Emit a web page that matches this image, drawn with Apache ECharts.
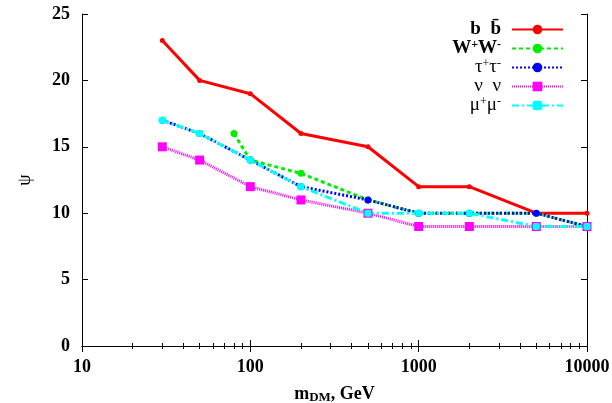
<!DOCTYPE html>
<html><head><meta charset="utf-8">
<script src="https://cdn.jsdelivr.net/npm/echarts@6/dist/echarts.min.js"></script>
<style>html,body{margin:0;padding:0;background:#fff}#c{width:612px;height:403px}</style>
</head><body><div id="c"></div>
<script>
// Data
const massBB = [30, 50, 100, 200, 500, 1000, 2000, 5000, 10000];
const psiBB = [23, 20, 19, 16, 15, 12, 12, 10, 10];
const massWW = [80, 100, 200, 500, 1000, 2000, 5000, 10000];
const psiWW = [16, 14, 13, 11, 10, 10, 10, 9];
const massTT = [30, 50, 100, 200, 500, 1000, 2000, 5000, 10000];
const psiTT = [17, 16, 14, 12, 11, 10, 10, 10, 9];
const massNN = [30, 50, 100, 200, 500, 1000, 2000, 5000, 10000];
const psiNN = [15, 14, 12, 11, 10, 9, 9, 9, 9];
const massMM = [30, 50, 100, 200, 500, 1000, 2000, 5000, 10000];
const psiMM = [17, 16, 14, 12, 10, 10, 10, 9, 9];
const seriesNames = ['bb', 'WW', 'tautau', 'nunu', 'mumu'];
const legendLabels = {
  bb: '{b|b  b\u0304}{g|}',
  WW: '{b|W}{bs|+}{b|W}{bs|-}{g|}',
  tautau: '{n|\u03c4}{ns|+}{n|\u03c4}{ns|-}{g|}',
  nunu: '{n|\u03bd  \u03bd}{g|}',
  mumu: '{n|\u03bc}{ns|+}{n|\u03bc}{ns|-}{g|}'
};
const yMin = 0, yMax = 25, yStep = 5;

const zip = (xs, ys) => xs.map((x, i) => [x, ys[i]]);
const FONT = '"Liberation Serif", "DejaVu Serif", serif';

const chart = echarts.init(document.getElementById('c'), null, {renderer: 'canvas'});
const axisLine = {show: true, lineStyle: {color: '#000', width: 1}};
const option = {
  animation: false,
  textStyle: {fontFamily: FONT},
  grid: {left: 82, right: 25, top: 14, bottom: 57, containLabel: false, outerBoundsMode: 'none'},
  xAxis: [{
    type: 'log', logBase: 10, min: 10, max: 10000,
    axisLine: axisLine,
    axisTick: {show: true, inside: true, length: 6, lineStyle: {color: '#000'}},
    minorTick: {show: true, splitNumber: 9, length: 3, lineStyle: {color: '#000'}},
    splitLine: {show: false},
    axisLabel: {fontFamily: FONT, fontWeight: 'bold', fontSize: 18, color: '#000', margin: 12,
      formatter: v => String(Math.round(v))},
    name: '{m|m}{s|DM}{m|, GeV}',
    nameLocation: 'middle', nameGap: 38,
    nameTextStyle: {rich: {
      m: {fontFamily: FONT, fontWeight: 'bold', fontSize: 18, color: '#000'},
      s: {fontFamily: FONT, fontWeight: 'bold', fontSize: 13, color: '#000', verticalAlign: 'bottom', padding: [7, 0, 0, 0]}
    }}
  }, {
    type: 'log', logBase: 10, min: 10, max: 10000, position: 'top',
    axisLine: axisLine,
    axisTick: {show: true, inside: true, length: 6, lineStyle: {color: '#000'}},
    minorTick: {show: true, splitNumber: 9, length: 3, lineStyle: {color: '#000'}},
    splitLine: {show: false}, axisLabel: {show: false}
  }],
  yAxis: [{
    type: 'value', min: yMin, max: yMax, interval: yStep,
    axisLine: axisLine,
    axisTick: {show: true, inside: true, length: 6, lineStyle: {color: '#000'}},
    splitLine: {show: false},
    axisLabel: {fontFamily: FONT, fontWeight: 'bold', fontSize: 18, color: '#000', margin: 12},
    name: '\u03c8', nameLocation: 'middle', nameGap: 48, nameRotate: 90,
    nameTextStyle: {fontFamily: FONT, fontSize: 18, color: '#000'}
  }, {
    type: 'value', min: yMin, max: yMax, interval: yStep, position: 'right',
    axisLine: axisLine,
    axisTick: {show: true, inside: true, length: 6, lineStyle: {color: '#000'}},
    splitLine: {show: false}, axisLabel: {show: false}
  }],
  legend: {
    orient: 'vertical', right: 48, top: 20, align: 'right', padding: 0,
    itemWidth: 51, itemHeight: 12, itemGap: 0,
    data: seriesNames,
    formatter: name => legendLabels[name],
    textStyle: {rich: {
      b: {fontFamily: FONT, fontWeight: 'bold', fontSize: 19, color: '#000', lineHeight: 19},
      bs: {fontFamily: FONT, fontWeight: 'bold', fontSize: 12, color: '#000', verticalAlign: 'top', lineHeight: 12},
      n: {fontFamily: FONT, fontSize: 19, color: '#000', lineHeight: 19},
      ns: {fontFamily: FONT, fontSize: 12, color: '#000', verticalAlign: 'top', lineHeight: 12},
      g: {width: 6, lineHeight: 19}
    }}
  },
  series: [
    {name: 'bb', type: 'line', data: zip(massBB, psiBB), color: '#ff0000',
     lineStyle: {width: 3, type: 'solid'}, symbol: 'circle', symbolSize: 5},
    {name: 'WW', type: 'line', data: zip(massWW, psiWW), color: '#00ee00',
     lineStyle: {width: 3, type: [4, 3]}, symbol: 'circle', symbolSize: 7},
    {name: 'tautau', type: 'line', data: zip(massTT, psiTT), color: '#0000ff',
     lineStyle: {width: 3, type: [2, 2]}, symbol: 'circle', symbolSize: 7},
    {name: 'nunu', type: 'line', data: zip(massNN, psiNN), color: '#ff00ff',
     lineStyle: {width: 3, type: [1, 1]}, symbol: 'rect', symbolSize: 9},
    {name: 'mumu', type: 'line', data: zip(massMM, psiMM), color: '#00ffff',
     lineStyle: {width: 3, type: [7, 3, 2, 3]}, symbol: 'roundRect', symbolSize: 7}
  ]
};
chart.setOption(option);
</script></body></html>
